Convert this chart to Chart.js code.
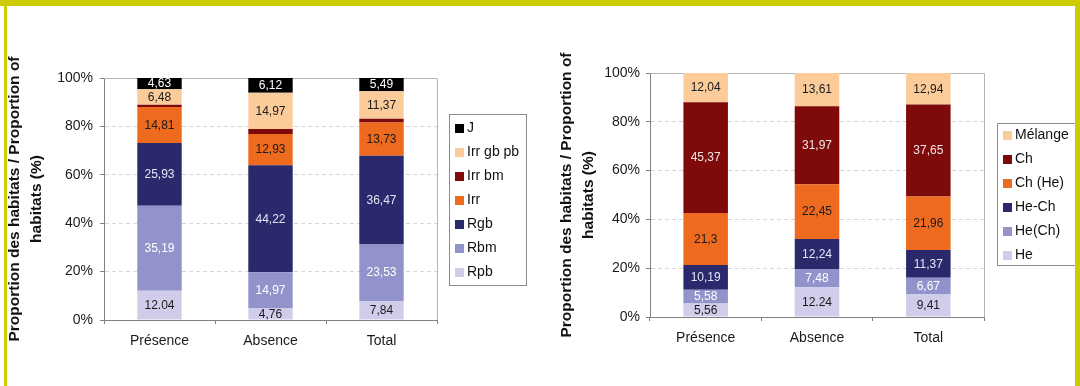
<!DOCTYPE html>
<html>
<head>
<meta charset="utf-8">
<script src="https://cdn.jsdelivr.net/npm/chart.js@4.4.0/dist/chart.umd.min.js"></script>
<style>
  html, body { margin: 0; padding: 0; background: #ffffff; }
  #page { position: relative; width: 1080px; height: 386px; overflow: hidden; background: #ffffff; }
  .pane { position: absolute; top: 0; width: 540px; height: 386px; }
  .pane canvas { position: absolute; left: 0; top: 0; }
  .frame { position: absolute; background: #cccc00; }
</style>
</head>
<body>
<div id="page">
  <div class="pane" style="left:0"><canvas id="chartStage" width="540" height="386"></canvas></div>
  <div class="pane" style="left:540px"><canvas id="chartType" width="540" height="386"></canvas></div>
  <div class="frame" style="left:0;top:0;width:1080px;height:6px"></div>
  <div class="frame" style="left:4px;top:0;width:3px;height:386px"></div>
  <div class="frame" style="left:1075px;top:0;width:5px;height:386px"></div>
</div>
<script>
// ---- Categories and tick labels ----
const categories = ['Présence', 'Absence', 'Total'];
const yTickValues = [0, 20, 40, 60, 80, 100];
const yTitle = ['Proportion des habitats / Proportion of', 'habitats (%)'];

// ---- Left chart: habitat structure classes (% of habitats) ----
const stageLabels = ['Rpb', 'Rbm', 'Rgb', 'Irr', 'Irr bm', 'Irr gb pb', 'J'];
const rpb     = [12.04, 4.76, 7.84];
const rbm     = [35.19, 14.97, 23.53];
const rgb     = [25.93, 44.22, 36.47];
const irr     = [14.81, 12.93, 13.73];
const irrBm   = [0.93, 2.03, 1.57];
const irrGbPb = [6.48, 14.97, 11.37];
const juv     = [4.63, 6.12, 5.49];

// ---- Right chart: stand composition classes (% of habitats) ----
const typeLabels = ['He', 'He(Ch)', 'He-Ch', 'Ch (He)', 'Ch', 'Mélange'];
const he      = [5.56, 12.24, 9.41];
const heCh2   = [5.58, 7.48, 6.67];
const heCh    = [10.19, 12.24, 11.37];
const chHe    = [21.3, 22.45, 21.96];
const ch      = [45.37, 31.97, 37.65];
const melange = [12.04, 13.61, 12.94];

// ---- Styling ----
const FONT = '"Liberation Sans", Arial, sans-serif';
const C = {
  black: '#000000', peach: '#fbcb9a', darkRed: '#7e0a0a', orange: '#ee6a1f',
  navy: '#29296b', lavender: '#9393cb', pale: '#cfcdea'
};

function ds(label, data, color, labelColor, dotAt) {
  return { label, data, backgroundColor: color, borderWidth: 0, labelColor, dotAt: dotAt || [] };
}

// numbers printed on the segments
const segmentLabels = {
  id: 'segmentLabels',
  afterDatasetsDraw(chart) {
    const ctx = chart.ctx;
    chart.data.datasets.forEach((d, i) => {
      if (!d.labelColor) return;
      const meta = chart.getDatasetMeta(i);
      meta.data.forEach((bar, j) => {
        const v = d.data[j];
        const txt = d.dotAt.includes(j) ? String(v) : String(v).replace('.', ',');
        ctx.save();
        ctx.font = '12px ' + FONT;
        ctx.fillStyle = d.labelColor;
        ctx.textAlign = 'center';
        ctx.textBaseline = 'middle';
        ctx.fillText(txt, bar.x, (bar.y + bar.base) / 2 + 0.5);
        ctx.restore();
      });
    });
  }
};

// light frame on the top and right of the plot area
const plotFrame = {
  id: 'plotFrame',
  beforeDatasetsDraw(chart) {
    const a = chart.chartArea, ctx = chart.ctx;
    ctx.save();
    ctx.strokeStyle = '#b4b4b4';
    ctx.lineWidth = 1;
    ctx.beginPath();
    ctx.moveTo(a.left, a.top + 0.5);
    ctx.lineTo(a.right + 0.5, a.top + 0.5);
    ctx.lineTo(a.right + 0.5, a.bottom);
    ctx.stroke();
    ctx.restore();
  }
};

// boxed legend, top item = topmost segment
const boxLegend = {
  id: 'boxLegend',
  afterDraw(chart, args, o) {
    const ctx = chart.ctx;
    ctx.save();
    ctx.strokeStyle = '#8c8c8c';
    ctx.lineWidth = 1;
    ctx.strokeRect(o.x + 0.5, o.y + 0.5, o.w, o.h);
    const items = chart.data.datasets.slice().reverse();
    ctx.font = '14px ' + FONT;
    ctx.textBaseline = 'middle';
    ctx.textAlign = 'left';
    items.forEach((d, k) => {
      const cy = o.y + o.first + k * o.step;
      ctx.fillStyle = d.backgroundColor;
      ctx.fillRect(o.x + 6, cy - 4, 9, 9);
      ctx.fillStyle = '#111111';
      ctx.fillText(d.label, o.x + 18, cy + 0.5);
    });
    ctx.restore();
  }
};

function makeOptions(cfg) {
  return {
    responsive: false,
    animation: false,
    devicePixelRatio: 1,
    layout: { padding: { left: 0, right: cfg.padRight, top: cfg.top, bottom: cfg.padBottom } },
    datasets: { bar: { categoryPercentage: 1, barPercentage: 0.4 } },
    plugins: {
      legend: { display: false },
      tooltip: { enabled: false },
      boxLegend: cfg.legend
    },
    scales: {
      x: {
        stacked: true,
        afterFit: s => { s.height = 40; },
        grid: { display: true, drawOnChartArea: false, drawTicks: true, tickLength: 4, color: '#808080', offset: true },
        border: { color: '#808080', width: 1 },
        ticks: { color: '#1a1a1a', font: { family: FONT, size: 14 }, padding: 9 }
      },
      y: {
        stacked: true,
        min: 0, max: 100,
        afterFit: s => { s.width = cfg.axisW; },
        afterBuildTicks: s => { s.ticks = yTickValues.map(v => ({ value: v })); },
        grid: { color: '#d6d6d6', tickColor: '#808080', tickLength: 4, lineWidth: 1 },
        border: { color: '#808080', width: 1, dash: [4, 3] },
        ticks: { color: '#1a1a1a', font: { family: FONT, size: 14 }, padding: cfg.tickPad, callback: v => v + '%' },
        title: {
          display: true, text: yTitle, color: '#111111',
          font: { family: FONT, size: 15.5, weight: 'bold', lineHeight: '22px' },
          padding: { top: cfg.titlePad, bottom: 0 }
        }
      }
    }
  };
}

new Chart(document.getElementById('chartStage'), {
  type: 'bar',
  data: {
    labels: categories,
    datasets: [
      ds(stageLabels[0], rpb, C.pale, '#1a1a1a', [0]),
      ds(stageLabels[1], rbm, C.lavender, '#ffffff'),
      ds(stageLabels[2], rgb, C.navy, '#e6e4f6'),
      ds(stageLabels[3], irr, C.orange, '#1a1a1a'),
      ds(stageLabels[4], irrBm, C.darkRed, null),
      ds(stageLabels[5], irrGbPb, C.peach, '#1a1a1a'),
      ds(stageLabels[6], juv, C.black, '#ffffff')
    ]
  },
  options: makeOptions({
    top: 78, padRight: 103, padBottom: 26, axisW: 104, tickPad: 7, titlePad: 4,
    legend: { x: 449, y: 114, w: 77, h: 171, first: 14, step: 24 }
  }),
  plugins: [plotFrame, segmentLabels, boxLegend]
});

new Chart(document.getElementById('chartType'), {
  type: 'bar',
  data: {
    labels: categories,
    datasets: [
      ds(typeLabels[0], he, C.pale, '#1a1a1a', [1]),
      ds(typeLabels[1], heCh2, C.lavender, '#ffffff'),
      ds(typeLabels[2], heCh, C.navy, '#e6e4f6'),
      ds(typeLabels[3], chHe, C.orange, '#1a1a1a'),
      ds(typeLabels[4], ch, C.darkRed, '#f2e6e6'),
      ds(typeLabels[5], melange, C.peach, '#1a1a1a')
    ]
  },
  options: makeOptions({
    top: 73, padRight: 96, padBottom: 29, axisW: 110, tickPad: 6, titlePad: 16,
    legend: { x: 457, y: 123, w: 90, h: 142, first: 12, step: 24 }
  }),
  plugins: [plotFrame, segmentLabels, boxLegend]
});
</script>
</body>
</html>
